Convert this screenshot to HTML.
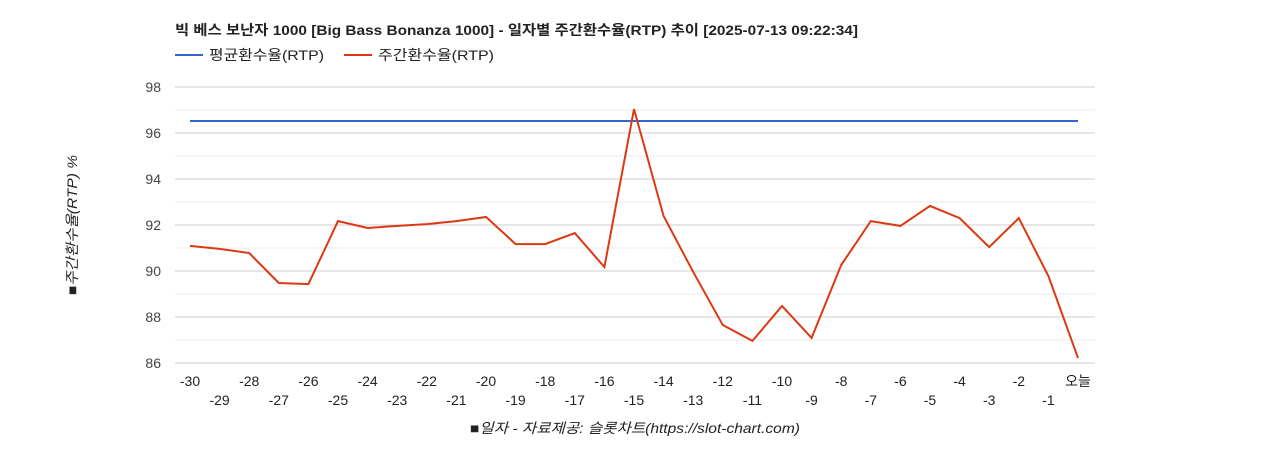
<!DOCTYPE html>
<html><head><meta charset="utf-8"><style>
body{margin:0;background:#fff;font-family:"Liberation Sans","Noto Sans CJK KR",sans-serif;}
</style></head><body>
<svg width="1268" height="450" xmlns="http://www.w3.org/2000/svg" font-family="Liberation Sans, Noto Sans CJK KR, sans-serif">
<text x="175" y="35" font-size="14" font-weight="bold" fill="#222" textLength="683" lengthAdjust="spacingAndGlyphs">빅 베스 보난자 1000 [Big Bass Bonanza 1000] - 일자별 주간환수율(RTP) 추이 [2025-07-13 09:22:34]</text>
<g>
<line x1="175" y1="55" x2="203" y2="55" stroke="#3366cc" stroke-width="2"/>
<text x="209" y="60" font-size="14" fill="#222" textLength="115" lengthAdjust="spacingAndGlyphs">평균환수율(RTP)</text>
<line x1="344" y1="55" x2="372" y2="55" stroke="#dc3912" stroke-width="2"/>
<text x="378" y="60" font-size="14" fill="#222" textLength="116" lengthAdjust="spacingAndGlyphs">주간환수율(RTP)</text>
</g>
<g id="grid"></g><g id="yt"></g><g id="xt"></g><g id="series"></g>
<text transform="translate(77,225) rotate(-90)" text-anchor="middle" font-size="14" font-style="italic" fill="#222" textLength="140" lengthAdjust="spacingAndGlyphs">■주간환수율(RTP) %</text>
<text x="635" y="433" text-anchor="middle" font-size="14" font-style="italic" fill="#222" textLength="330" lengthAdjust="spacingAndGlyphs">■일자 - 자료제공: 슬롯차트(https://slot-chart.com)</text>
</svg>
<script>
const categories=[-30,-29,-28,-27,-26,-25,-24,-23,-22,-21,-20,-19,-18,-17,-16,-15,-14,-13,-12,-11,-10,-9,-8,-7,-6,-5,-4,-3,-2,-1,"오늘"];
const weeklyRtp=[91.09,90.96,90.78,89.48,89.43,92.17,91.87,91.96,92.04,92.17,92.35,91.17,91.17,91.65,90.17,97.04,92.39,89.96,87.65,86.96,88.48,87.09,90.26,92.17,91.96,92.83,92.30,91.04,92.30,89.78,86.22];
const avgRtp=96.52;
const yTicks=[86,88,90,92,94,96,98];
const NS="http://www.w3.org/2000/svg";
const x0=190,x1=1078,yMin=86,yMax=98,yTop=87,yBot=363;
const X=i=>x0+(x1-x0)*i/(categories.length-1);
const Y=v=>yBot-(v-yMin)/(yMax-yMin)*(yBot-yTop);
function mk(t,a,p){const e=document.createElementNS(NS,t);for(const k in a)e.setAttribute(k,a[k]);p.appendChild(e);return e;}
const grid=document.getElementById('grid');
for(let v=yMin;v<=yMax;v++){
 const l=mk('line',{x1:175,x2:1095,y1:Y(v),y2:Y(v),stroke:v%2?'#ebebeb':'#cccccc'},grid);
 
 
}
const yt=document.getElementById('yt');
yTicks.forEach(v=>{const t=mk('text',{x:161,y:Y(v)+5,'text-anchor':'end','font-size':14,fill:'#444'},yt);t.textContent=v;
 
 });
const xt=document.getElementById('xt');
categories.forEach((c,i)=>{const t=mk('text',{x:X(i),y:i%2?405:386,'text-anchor':'middle','font-size':14,fill:'#222'},xt);t.textContent=c;
 
 });
const s=document.getElementById('series');
const avg=mk('line',{x1:X(0),x2:X(categories.length-1),y1:Y(avgRtp),y2:Y(avgRtp),stroke:'#3366cc','stroke-width':2},s);


const wl=mk('polyline',{points:weeklyRtp.map((v,i)=>X(i)+','+Y(v)).join(' '),fill:'none',stroke:'#dc3912','stroke-width':2},s);


</script>
</body></html>
